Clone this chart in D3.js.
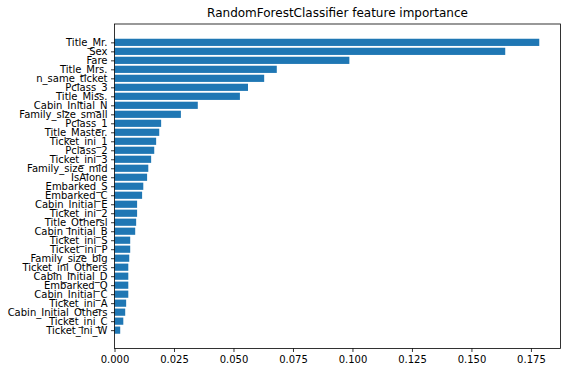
<!DOCTYPE html>
<html>
<head>
<meta charset="utf-8">
<script src="https://cdn.jsdelivr.net/npm/d3@7"></script>
<style>
  body { margin: 0; background: #fff; }
  text { font-family: "DejaVu Sans", sans-serif; fill: #000; }
</style>
</head>
<body>
<svg id="chart" width="567" height="373"></svg>
<script>
// features, top to bottom
var features = ["Title_Mr.", "Sex", "Fare", "Title_Mrs.", "n_same_ticket", "Pclass_3", "Title_Miss.",
  "Cabin_Initial_N", "Family_size_small", "Pclass_1", "Title_Master.", "Ticket_ini_1", "Pclass_2",
  "Ticket_ini_3", "Family_size_mid", "IsAlone", "Embarked_S", "Embarked_C", "Cabin_Initial_E",
  "Ticket_ini_2", "Title_Othersl", "Cabin_Initial_B", "Ticket_ini_S", "Ticket_ini_P", "Family_size_big",
  "Ticket_ini_Others", "Cabin_Initial_D", "Embarked_Q", "Cabin_Initial_C", "Ticket_ini_A",
  "Cabin_Initial_Others", "Ticket_ini_C", "Ticket_ini_W"];
var importance = [0.1785, 0.1642, 0.0987, 0.0682, 0.0629, 0.0561, 0.0527,
  0.0350, 0.0279, 0.0196, 0.0188, 0.0175, 0.0167,
  0.0154, 0.0142, 0.0137, 0.0121, 0.0116, 0.0095,
  0.0095, 0.0091, 0.0087, 0.0066, 0.0066, 0.0062,
  0.0058, 0.0058, 0.0058, 0.0058, 0.0049,
  0.0045, 0.0037, 0.0024];
var xTicks = [0, 0.025, 0.05, 0.075, 0.1, 0.125, 0.15, 0.175];
var title = "RandomForestClassifier feature importance";

var svg = d3.select("#chart");
var margin = {left: 114.5, right: 6.5, top: 24, bottom: 24.5};
var W = 567, H = 373;

var n = features.length;
var xmax = d3.max(importance) * 1.05;
var x = d3.scaleLinear().domain([0, xmax]).range([margin.left, W - margin.right]);
// matplotlib style: index 0 at bottom, bar height 0.8, 5% margins
var span = (n - 1) + 0.8;
var y = d3.scaleLinear()
  .domain([-0.4 - 0.05 * span, n - 1 + 0.4 + 0.05 * span])
  .range([H - margin.bottom, margin.top]);

function pos(i){ return n - 1 - i; }

svg.append("g").selectAll("rect")
  .data(importance)
  .enter().append("rect")
  .attr("x", x(0))
  .attr("y", function(d, i){ return y(pos(i) + 0.4); })
  .attr("width", function(d){ return x(d) - x(0); })
  .attr("height", function(d, i){ return y(pos(i) - 0.4) - y(pos(i) + 0.4); })
  .attr("fill", "#1f77b4");

var xAxis = svg.append("g")
  .attr("transform", "translate(0," + (H - margin.bottom) + ")")
  .call(d3.axisBottom(x).tickValues(xTicks).tickFormat(d3.format(".3f")).tickSizeOuter(0).tickSize(3.5).tickPadding(3.5));
xAxis.selectAll("text").style("font-size", "10px");

var yAxis = svg.append("g")
  .attr("transform", "translate(" + margin.left + ",0)")
  .call(d3.axisLeft(y).tickValues(d3.range(n)).tickFormat(function(d){ return features[n - 1 - d]; }).tickSizeOuter(0).tickSize(3.5).tickPadding(3.5));
yAxis.selectAll("text").style("font-size", "10px");

svg.selectAll(".domain").remove();
svg.selectAll(".tick line").attr("stroke", "#000").attr("stroke-width", 0.8);

// frame
svg.append("rect")
  .attr("x", margin.left).attr("y", margin.top)
  .attr("width", W - margin.right - margin.left)
  .attr("height", H - margin.bottom - margin.top)
  .attr("fill", "none").attr("stroke", "#000").attr("stroke-width", 0.8);

svg.append("text")
  .attr("x", (margin.left + W - margin.right) / 2)
  .attr("y", 17)
  .attr("text-anchor", "middle")
  .style("font-size", "12px")
  .text(title);
</script>
</body>
</html>
